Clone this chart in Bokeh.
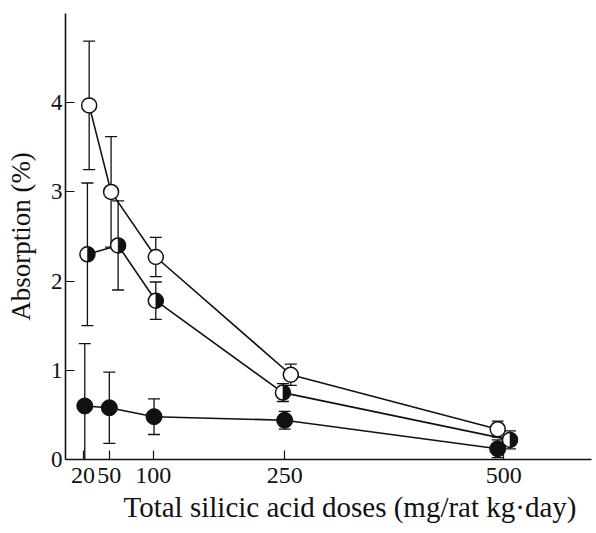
import math
from bokeh.plotting import figure
from bokeh.models import Range1d, FixedTicker, Title
from bokeh.embed import file_html
from bokeh.resources import INLINE

# ---- data ----
doses = [20, 50, 100, 250, 500]          # tick labels / nominal doses

# plotted dose positions (points are slightly shifted sideways in the original)
x_open = [27, 52, 103, 257, 493]
x_half = [25, 60, 103, 248, 507]
x_full = [22, 50, 101, 250, 493]

y_open = [3.97, 3.0, 2.27, 0.95, 0.34]
e_open = [0.72, 0.62, 0.22, 0.12, 0.09]

y_half = [2.3, 2.4, 1.78, 0.75, 0.22]
e_half = [0.8, 0.5, 0.21, 0.1, 0.1]

y_full = [0.6, 0.58, 0.48, 0.44, 0.12]
e_full = [0.7, 0.4, 0.2, 0.1, 0.1]

y_ticks = [0, 1, 2, 3, 4]

x_title = "Total silicic acid doses (mg/rat kg\u00b7day)"
y_title = "Absorption (%)"

FONT = "Liberation Serif"
BLACK = "#111111"

p = figure(width=596, height=533, output_backend="svg", toolbar_location=None,
           x_range=Range1d(0, 600), y_range=Range1d(0, 5.0),
           min_border_left=65, min_border_right=5, min_border_top=13,
           min_border_bottom=74)
p.outline_line_color = None
p.xgrid.grid_line_color = None
p.ygrid.grid_line_color = None
p.background_fill_color = "white"
p.border_fill_color = "white"

# axes
p.xaxis.ticker = FixedTicker(ticks=doses)
p.yaxis.ticker = FixedTicker(ticks=y_ticks)
for ax in (p.xaxis[0], p.yaxis[0]):
    ax.axis_line_color = BLACK
    ax.axis_line_width = 1.6
    ax.major_tick_line_color = BLACK
    ax.major_tick_line_width = 1.2
    ax.major_tick_in = 9
    ax.major_tick_out = 0
    ax.minor_tick_line_color = None
    ax.major_label_text_font = FONT
    ax.major_label_text_color = BLACK
    ax.axis_label_text_font = FONT
    ax.axis_label_text_font_style = "normal"
    ax.axis_label_text_color = BLACK

p.xaxis.major_label_text_font_size = "24px"
p.xaxis.major_label_standoff = 8

p.yaxis.major_label_text_font_size = "23px"
p.yaxis.major_label_standoff = 3
p.yaxis.axis_label = y_title
p.yaxis.axis_label_text_font_size = "27px"
p.yaxis.axis_label_standoff = 12

xt = Title(text=x_title, align="left", offset=58, standoff=7,
           text_font=FONT, text_font_size="29px", text_font_style="normal",
           text_color=BLACK)
p.add_layout(xt, "below")

series = [(x_open, y_open, e_open), (x_half, y_half, e_half), (x_full, y_full, e_full)]

# error bars
for xs, ys, es in series:
    lo = [y - e for y, e in zip(ys, es)]
    hi = [y + e for y, e in zip(ys, es)]
    p.segment(x0=xs, y0=lo, x1=xs, y1=hi, line_color=BLACK, line_width=1.3)
    p.scatter(xs, hi, marker="dash", size=12, line_color=BLACK, line_width=1.3)
    p.scatter(xs, lo, marker="dash", size=12, line_color=BLACK, line_width=1.3)

# connecting lines
for xs, ys, es in series:
    p.line(xs, ys, line_color=BLACK, line_width=1.6)

# markers
p.scatter(x_open, y_open, marker="circle", size=15, fill_color="white",
          line_color=BLACK, line_width=1.5)
p.scatter(x_half, y_half, marker="circle", size=15, fill_color="white",
          line_color=BLACK, line_width=1.5)
p.wedge(x_half, y_half, radius=7.5, radius_units="screen",
        start_angle=-math.pi / 2, end_angle=math.pi / 2,
        fill_color=BLACK, line_color=BLACK, line_width=0.5)
p.scatter(x_full, y_full, marker="circle", size=16, fill_color=BLACK,
          line_color=BLACK, line_width=1.0)

open("out.html", "w").write(file_html(p, INLINE))
